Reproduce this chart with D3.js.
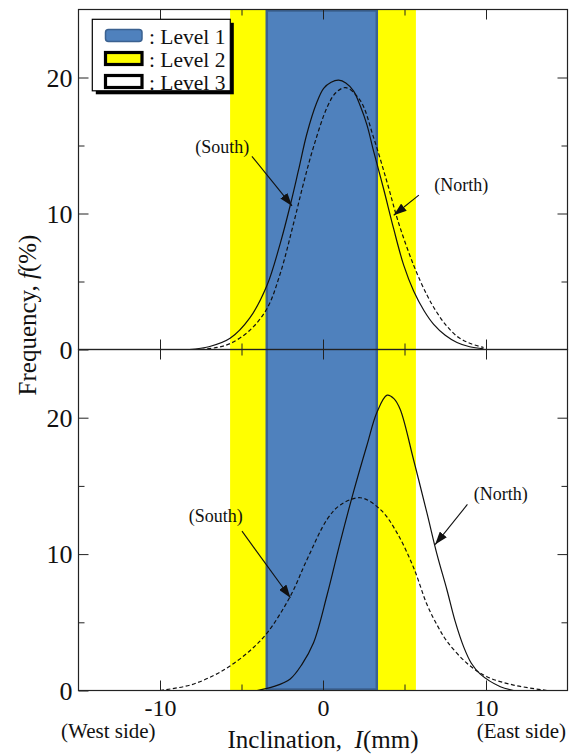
<!DOCTYPE html>
<html><head><meta charset="utf-8">
<script src="https://cdn.jsdelivr.net/npm/d3@7"></script>
<style>
body{margin:0;background:#fff}
svg{display:block}
text{font-family:"Liberation Serif","Times New Roman",serif;fill:#111}
</style>
</head><body>
<svg id="chart" width="576" height="754"></svg>
<script>
// ---------------- data ----------------
const xDomain = [-15, 15];
const fDomain = [0, 25];

const level1Band = [-3.45, 3.3];
const level2Band = [-5.7, 5.7];

const xMajorTicks = [-10, 0, 10];
const xMinorTicks = [-5, 5];
const yMajorTicks = [0, 10, 20];
const yMinorTicks = [5, 15];

// upper panel
const topSouthX = [-8.2, -7.0, -5.7, -4.5, -3.44, -2.6, -2.01, -1.5, -0.98, -0.4, 0.04, 0.5, 0.96, 1.4, 1.88, 2.29, 2.7, 3.1, 3.72, 4.33, 4.95, 5.56, 6.2, 6.79, 7.5, 8.22, 9.0, 9.85];
const topSouthF = [0, 0.2, 0.82, 2.3, 4.7, 7.9, 10.6, 13.2, 15.9, 18.1, 19.2, 19.65, 19.8, 19.6, 19.0, 17.9, 16.5, 14.6, 11.8, 8.9, 6.2, 4.3, 2.85, 1.85, 1.05, 0.52, 0.2, 0.05];
const topNorthX = [-7.5, -6.5, -5.69, -4.5, -3.44, -2.62, -1.8, -1.2, -0.58, 0.25, 0.8, 1.4, 2.29, 3.1, 3.93, 4.64, 5.56, 6.38, 7.0, 7.61, 8.3, 9.04, 9.85];
const topNorthF = [0, 0.15, 0.44, 1.4, 3.0, 5.6, 9.3, 12.2, 14.9, 17.8, 18.9, 19.25, 18.3, 15.6, 12.3, 9.3, 6.2, 4.0, 2.7, 1.7, 0.9, 0.44, 0.15];

// lower panel
const botNorthX = [-4.05, -3.0, -2.01, -1.3, -0.58, 0.25, 1.06, 1.88, 2.7, 3.31, 3.93, 4.35, 4.74, 5.56, 6.38, 6.99, 7.61, 8.1, 8.63, 9.1, 9.65, 10.88, 11.7];
const botNorthF = [0, 0.3, 0.85, 1.9, 3.5, 7.0, 10.9, 14.6, 18.0, 20.4, 21.65, 21.4, 20.6, 16.9, 13.0, 10.0, 7.35, 5.1, 3.2, 2.0, 1.2, 0.28, 0];
const botSouthX = [-10.0, -8.14, -6.71, -5.7, -4.5, -3.44, -2.01, -0.98, 0.25, 1.06, 2.29, 3.52, 4.54, 5.56, 6.38, 7.0, 7.61, 8.83, 10.06, 11.69, 13.74];
const botSouthF = [0, 0.4, 1.1, 1.8, 2.9, 4.2, 6.9, 9.6, 12.54, 13.6, 14.13, 13.27, 11.56, 9.0, 6.3, 4.8, 3.6, 2.0, 1.01, 0.4, 0];

const legendLabels = [": Level 1", ": Level 2", ": Level 3"];

// annotations in data units: label centre, arrow start, arrow tip
const topAnnotations = [
  {label: "(South)", tx: -6.18, tf: 14.9, x1: -4.36, f1: 14.2, x2: -1.9, f2: 10.56},
  {label: "(North)", tx: 8.48, tf: 12.1, x1: 5.88, f1: 11.35, x2: 4.34, f2: 9.87}
];
const botAnnotations = [
  {label: "(South)", tx: -6.58, tf: 12.76, x1: -4.97, f1: 11.68, x2: -2.0, f2: 6.8},
  {label: "(North)", tx: 10.9, tf: 14.4, x1: 8.86, f1: 13.64, x2: 6.88, f2: 10.7}
];

// ---------------- layout ----------------
const L = 78.5, R = 567.5, T = 9.5, M = 349.5, B = 690.5;
const svg = d3.select("#chart");
const x = d3.scaleLinear().domain(xDomain).range([L, R]);
const yTop = d3.scaleLinear().domain(fDomain).range([M, T]);
const yBot = d3.scaleLinear().domain(fDomain).range([B, M]);

const YELLOW = "#ffff00", BLUE = "#4f81bd", BLUE_EDGE = "#3b6190", INK = "#111";

svg.append("defs").append("marker")
  .attr("id", "ah").attr("markerUnits", "userSpaceOnUse")
  .attr("markerWidth", 14).attr("markerHeight", 9)
  .attr("refX", 13).attr("refY", 4.5).attr("orient", "auto")
  .append("path").attr("d", "M0,0 L13,4.5 L0,9 Z").attr("fill", INK);

// bands spanning both panels
svg.append("rect")
  .attr("x", x(level2Band[0])).attr("y", T)
  .attr("width", x(level2Band[1]) - x(level2Band[0])).attr("height", B - T)
  .attr("fill", YELLOW);
svg.append("rect")
  .attr("x", x(level1Band[0])).attr("y", T + 1)
  .attr("width", x(level1Band[1]) - x(level1Band[0])).attr("height", B - T - 2)
  .attr("fill", BLUE).attr("stroke", BLUE_EDGE).attr("stroke-width", 2.5);

function drawPanel(y, series, annos, showXLabels) {
  const g = svg.append("g");
  const line = d3.line().x(d => x(d[0])).y(d => y(d[1])).curve(d3.curveCatmullRom.alpha(0.5));
  series.forEach(s => {
    g.append("path")
      .datum(d3.zip(s.xs, s.fs))
      .attr("d", line)
      .attr("fill", "none")
      .attr("stroke", INK)
      .attr("stroke-width", 1.2)
      .attr("stroke-dasharray", s.dashed ? "4,2.5" : null);
  });

  const clean = sel => { sel.select(".domain").remove(); sel.attr("font-size", null).attr("font-family", null);
    sel.selectAll("line").attr("stroke", "#222").attr("stroke-width", 1); };

  // left
  g.append("g").attr("transform", `translate(${L},0)`)
    .call(d3.axisLeft(y).tickValues(yMajorTicks).tickSize(-10).tickPadding(6).tickFormat(d => String(d)))
    .call(clean)
    .selectAll("text").attr("font-size", 26).attr("dy", "0.34em").attr("fill", INK);
  g.append("g").attr("transform", `translate(${L},0)`)
    .call(d3.axisLeft(y).tickValues(yMinorTicks).tickSize(-6).tickFormat(""))
    .call(clean);
  // right
  g.append("g").attr("transform", `translate(${R},0)`)
    .call(d3.axisRight(y).tickValues(yMajorTicks.filter(v => v > 0)).tickSize(-10).tickFormat(""))
    .call(clean);
  g.append("g").attr("transform", `translate(${R},0)`)
    .call(d3.axisRight(y).tickValues(yMinorTicks).tickSize(-6).tickFormat(""))
    .call(clean);
  // top
  g.append("g").attr("transform", `translate(0,${y(fDomain[1])})`)
    .call(d3.axisTop(x).tickValues(xMajorTicks).tickSize(-10).tickFormat(""))
    .call(clean);
  g.append("g").attr("transform", `translate(0,${y(fDomain[1])})`)
    .call(d3.axisTop(x).tickValues(xMinorTicks).tickSize(-6).tickFormat(""))
    .call(clean);
  // bottom
  const bx = g.append("g").attr("transform", `translate(0,${y(0)})`)
    .call(d3.axisBottom(x).tickValues(xMajorTicks).tickSize(-10).tickPadding(8)
      .tickFormat(showXLabels ? (d => String(d)) : ""))
    .call(clean);
  bx.selectAll("text").attr("font-size", 24).attr("fill", INK);
  g.append("g").attr("transform", `translate(0,${y(0)})`)
    .call(d3.axisBottom(x).tickValues(xMinorTicks).tickSize(-6).tickFormat(""))
    .call(clean);

  // frame
  g.append("rect")
    .attr("x", L).attr("y", y(fDomain[1]))
    .attr("width", R - L).attr("height", y(0) - y(fDomain[1]))
    .attr("fill", "none").attr("stroke", "#222").attr("stroke-width", 1.2);

  // annotations
  annos.forEach(a => {
    g.append("line")
      .attr("x1", x(a.x1)).attr("y1", y(a.f1))
      .attr("x2", x(a.x2)).attr("y2", y(a.f2))
      .attr("stroke", INK).attr("stroke-width", 1.1)
      .attr("marker-end", "url(#ah)");
    g.append("text")
      .attr("x", x(a.tx)).attr("y", y(a.tf)).attr("dy", "0.33em")
      .attr("text-anchor", "middle").attr("font-size", 18)
      .text(a.label);
  });
}

drawPanel(yTop, [
  {xs: topSouthX, fs: topSouthF, dashed: false},
  {xs: topNorthX, fs: topNorthF, dashed: true}
], topAnnotations, false);

drawPanel(yBot, [
  {xs: botSouthX, fs: botSouthF, dashed: true},
  {xs: botNorthX, fs: botNorthF, dashed: false}
], botAnnotations, true);

// axis titles
svg.append("text")
  .attr("transform", "translate(36,315) rotate(-90)")
  .attr("text-anchor", "middle").attr("font-size", 25)
  .call(t => {
    t.append("tspan").text("Frequency, ");
    t.append("tspan").attr("font-style", "italic").text("f");
    t.append("tspan").text("(%)");
  });
svg.append("text")
  .attr("x", 323).attr("y", 748)
  .attr("text-anchor", "middle").attr("font-size", 25)
  .call(t => {
    t.append("tspan").text("Inclination,\u00a0\u00a0");
    t.append("tspan").attr("font-style", "italic").text("I");
    t.append("tspan").text("(mm)");
  });
svg.append("text").attr("x", 61).attr("y", 738).attr("font-size", 21).text("(West side)");
svg.append("text").attr("x", 566).attr("y", 738).attr("text-anchor", "end").attr("font-size", 21).text("(East side)");

// legend
const lg = svg.append("g");
lg.append("rect").attr("x", 95.8).attr("y", 22.8).attr("width", 138).attr("height", 71.5).attr("fill", "#000");
lg.append("rect").attr("x", 92.3).attr("y", 19.3).attr("width", 138).attr("height", 71.5)
  .attr("fill", "#fff").attr("stroke", "#000").attr("stroke-width", 1.2);
const swatches = [
  {fill: BLUE, stroke: BLUE_EDGE, sw: 1.5, rx: 3},
  {fill: YELLOW, stroke: "#000", sw: 3.2, rx: 0},
  {fill: "#fff", stroke: "#000", sw: 3.2, rx: 0}
];
legendLabels.forEach((lab, i) => {
  const yy = 29 + i * 23;
  const s = swatches[i];
  lg.append("rect").attr("x", 105.5).attr("y", yy + 0.5)
    .attr("width", 36.5).attr("height", 12).attr("rx", s.rx)
    .attr("fill", s.fill).attr("stroke", s.stroke).attr("stroke-width", s.sw);
  lg.append("text").attr("x", 149).attr("y", yy + 15).attr("font-size", 21.5).text(lab);
});
</script>
</body></html>
